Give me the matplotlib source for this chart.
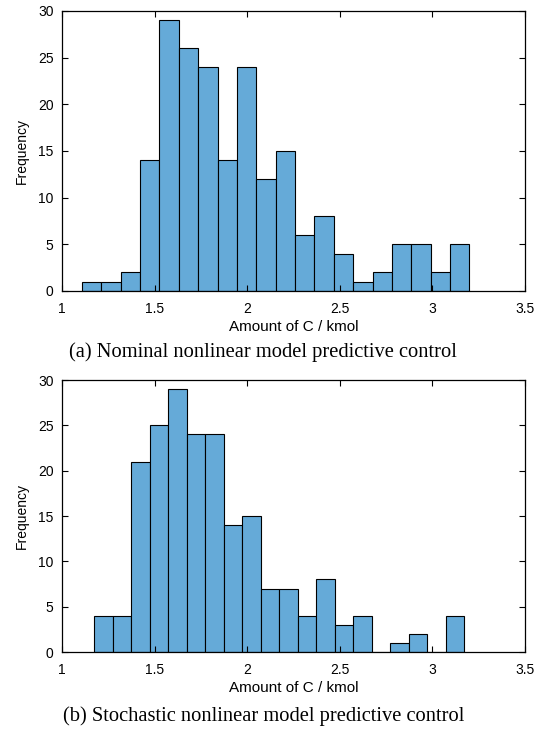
import matplotlib.pyplot as plt
import numpy as np

# histogram counts
nominal_counts = [1, 1, 2, 14, 29, 26, 24, 14, 24, 12, 15, 6, 8, 4, 1, 2, 5, 5, 2, 5]
nominal_start, nominal_width = 1.108, 0.1046

stochastic_counts = [4, 4, 21, 25, 29, 24, 24, 14, 15, 7, 7, 4, 8, 3, 4, 0, 1, 2, 0, 4]
stochastic_start, stochastic_width = 1.173, 0.0999

captions = ['(a) Nominal nonlinear model predictive control',
            '(b) Stochastic nonlinear model predictive control']

xticks = [1, 1.5, 2, 2.5, 3, 3.5]
xticklabels = ['1', '1.5', '2', '2.5', '3', '3.5']
yticks = [0, 5, 10, 15, 20, 25, 30]

bar_color = '#65AAD8'
sans = 'Liberation Sans'
serif = 'Liberation Serif'

W, H = 546, 732
AX_LEFT, AX_RIGHT = 62, 525


def draw_hist(ax, counts, start, width):
    edges = start + width * np.arange(len(counts) + 1)
    ax.hist(edges[:-1] + width / 2, bins=edges, weights=counts,
            color=bar_color, edgecolor='black', linewidth=0.8)
    ax.set_xlim(1, 3.5)
    ax.set_ylim(0, 30)
    ax.set_xticks(xticks)
    ax.set_xticklabels(xticklabels, family=sans, fontsize=10)
    ax.set_yticks(yticks)
    ax.set_yticklabels([str(t) for t in yticks], family=sans, fontsize=10)
    ax.tick_params(direction='in', top=True, right=True, length=4, width=0.8)
    ax.tick_params(axis='x', pad=8)
    ax.tick_params(axis='y', pad=6)
    for s in ax.spines.values():
        s.set_linewidth(0.9)
    ax.set_xlabel('Amount of C / kmol', family=sans, fontsize=11, labelpad=3)
    ax.set_ylabel('Frequency', family=sans, fontsize=10)
    ax.yaxis.set_label_coords((29 - AX_LEFT) / (AX_RIGHT - AX_LEFT), 0.5)


fig = plt.figure(figsize=(5.46, 7.32), dpi=100)
ax1 = fig.add_axes([AX_LEFT / W, 1 - 291 / H, (AX_RIGHT - AX_LEFT) / W, (291 - 11) / H])
ax2 = fig.add_axes([AX_LEFT / W, 1 - 652 / H, (AX_RIGHT - AX_LEFT) / W, (652 - 380) / H])

draw_hist(ax1, nominal_counts, nominal_start, nominal_width)
draw_hist(ax2, stochastic_counts, stochastic_start, stochastic_width)

fig.text(263 / W, 1 - 352 / H, captions[0], ha='center', va='center',
         family=serif, fontsize=14.8)
fig.text(264 / W, 1 - 716 / H, captions[1], ha='center', va='center',
         family=serif, fontsize=14.8)

fig.savefig('out.png', dpi=100)
